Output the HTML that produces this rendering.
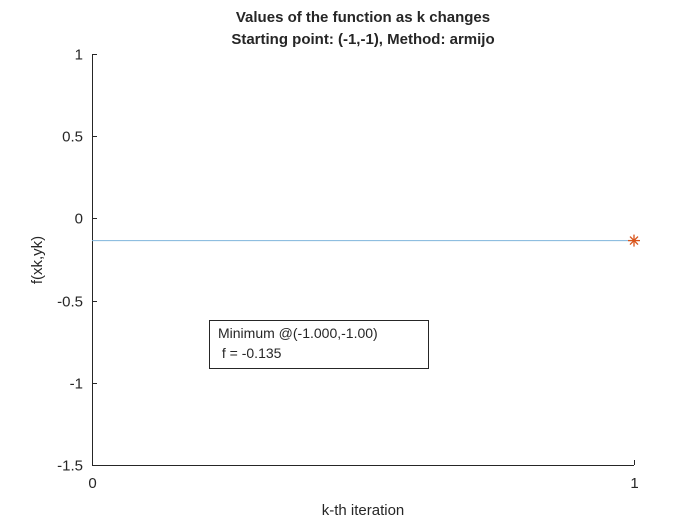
<!DOCTYPE html>
<html><head><meta charset="utf-8"><style>
body{margin:0;background:#fff;width:700px;height:525px;overflow:hidden}
svg text{font-family:"Liberation Sans",Arial,sans-serif;fill:#262626}
</style></head><body>
<svg id="chart" width="700" height="525" xmlns="http://www.w3.org/2000/svg">
<text x="363" y="22" font-size="15" font-weight="bold" text-anchor="middle">Values of the function as k changes</text>
<text x="363" y="44" font-size="15" font-weight="bold" text-anchor="middle">Starting point: (-1,-1), Method: armijo</text>
<g id="axes"></g>
<g id="marks"></g>
<text x="363" y="515" font-size="15" text-anchor="middle">k-th iteration</text>
<text transform="translate(42,260) rotate(-90)" font-size="15" text-anchor="middle">f(xk,yk)</text>
<g>
<rect x="209.5" y="320.5" width="219" height="48" fill="#fff" stroke="#262626" stroke-width="1"/>
<text x="218" y="338" font-size="14" fill="#000">Minimum @(-1.000,-1.00)</text>
<text x="218" y="358" font-size="14" fill="#000">&#160;f = -0.135</text>
</g>
</svg>
<script>
const iterations=[1];
const fValues=[-0.135];
const xTicks=[0,1];
const yTicks=[-1.5,-1,-0.5,0,0.5,1];
const yTickLabels=["-1.5","-1","-0.5","0","0.5","1"];
const ns="http://www.w3.org/2000/svg";
const L=92,R=634,T=54,B=465;
const xs=v=>L+(v-0)/(1-0)*(R-L);
const ys=v=>B-(v+1.5)/2.5*(B-T);
const axes=document.getElementById('axes'),marks=document.getElementById('marks');
function mk(tag,attrs,parent){const e=document.createElementNS(ns,tag);for(const k in attrs)e.setAttribute(k,attrs[k]);parent.appendChild(e);return e;}
const xl=mk('line',{x1:L,y1:B+0.5,x2:R,y2:B+0.5,stroke:'#262626'},axes);


const yl=mk('line',{x1:L+0.5,y1:T,x2:L+0.5,y2:B,stroke:'#262626'},axes);


xTicks.forEach(v=>{const x=Math.round(xs(v))+0.5;
mk('line',{x1:x,y1:B,x2:x,y2:B-5,stroke:'#262626'},axes);
const t=mk('text',{x:x,y:B+23,'font-size':15,'text-anchor':'middle'},axes);t.textContent=v;

});
yTicks.forEach((v,i)=>{const y=Math.round(ys(v))+0.5;
mk('line',{x1:L,y1:y,x2:L+5,y2:y,stroke:'#262626'},axes);
const t=mk('text',{x:L-9,y:y+5,'font-size':15,'text-anchor':'end'},axes);t.textContent=yTickLabels[i];

});
const hl=mk('line',{x1:L,y1:ys(fValues[0]),x2:xs(iterations[0]),y2:ys(fValues[0]),stroke:'#7fb4dc','stroke-width':1},marks);


iterations.forEach((k,i)=>{const cx=xs(k),cy=ys(fValues[i]);const g=mk('g',{stroke:'#D95319','stroke-width':1.3},marks);


const r=6;
mk('line',{x1:cx-r,y1:cy,x2:cx+r,y2:cy},g);mk('line',{x1:cx,y1:cy-r,x2:cx,y2:cy+r},g);
mk('line',{x1:cx-4,y1:cy-4,x2:cx+4,y2:cy+4},g);mk('line',{x1:cx-4,y1:cy+4,x2:cx+4,y2:cy-4},g);});
</script>
</body></html>
